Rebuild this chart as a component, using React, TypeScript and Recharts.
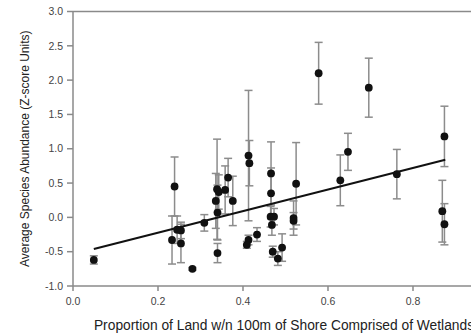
import React from "react";
import {
  ComposedChart,
  Scatter,
  ErrorBar,
  XAxis,
  YAxis,
  ReferenceLine,
  Label,
} from "recharts";

// proportion of land within 100m of shore that is wetland
const wetlandProp = [
  0.049, 0.239, 0.233, 0.245, 0.254, 0.254, 0.281, 0.309, 0.336, 0.339,
  0.343, 0.34, 0.34, 0.358, 0.365, 0.376, 0.413, 0.415, 0.413, 0.409,
  0.433, 0.466, 0.466, 0.465, 0.473, 0.468, 0.47, 0.482, 0.492, 0.525,
  0.519, 0.519, 0.578, 0.629, 0.647, 0.696, 0.762, 0.874, 0.869, 0.874,
];

// average species abundance, z-score units
const abundance = [
  -0.62, 0.45, -0.33, -0.18, -0.19, -0.38, -0.75, -0.08, 0.24, 0.41,
  0.37, 0.07, -0.52, 0.4, 0.58, 0.24, 0.9, 0.79, -0.33, -0.4,
  -0.25, 0.64, 0.35, 0.01, 0.01, -0.11, -0.5, -0.6, -0.44, 0.49,
  -0.01, -0.05, 2.1, 0.54, 0.955, 1.89, 0.63, 1.18, 0.09, -0.1,
];

const abundanceErr = [
  0.06, 0.43, 0.35, 0.2, 0.12, 0.28, 0.02, 0.12, 0.4, 0.73,
  0.25, 0.4, 0.14, 0.35, 0.28, 0.36, 0.95, 0.33, 0.07, 0.05,
  0.1, 0.46, 0.37, 0.15, 0.12, 0.15, 0.08, 0.1, 0.2, 0.6,
  0.25, 0.12, 0.45, 0.37, 0.27, 0.43, 0.36, 0.44, 0.45, 0.3,
];

// regression line end points
const fitX = [0.049, 0.876];
const fitY = [-0.46, 0.84];

const xTicks = [0, 0.2, 0.4, 0.6, 0.8];
const yTicks = [-1, -0.5, 0, 0.5, 1, 1.5, 2, 2.5, 3];

const points = wetlandProp.map((x, i) => ({
  x,
  y: abundance[i],
  err: abundanceErr[i],
}));
const fitLine = fitX.map((x, i) => ({ x, y: fitY[i] }));

const AXIS = "#8a8a8a";
const FONT = "'Liberation Sans', Arial, sans-serif";

const Dot = (props: any) => {
  const { cx, cy } = props;
  if (cx == null || cy == null) return null;
  return <circle cx={cx} cy={cy} r={3.9} fill="#111" />;
};

export default function App() {
  return (
    <div style={{ position: "absolute", left: 0, top: 0, background: "#fff" }}>
      <ComposedChart
        width={471}
        height={333}
        margin={{ top: 11.5, right: 0, bottom: 0, left: 0 }}
        style={{ fontFamily: FONT }}
      >
        <XAxis
          type="number"
          dataKey="x"
          domain={[0, 0.9365]}
          ticks={xTicks}
          allowDataOverflow
          tickFormatter={(v: number) => v.toFixed(1)}
          height={47}
          stroke={AXIS}
          strokeWidth={1.5}
          tickSize={5}
          tickMargin={7}
          tick={{ fill: "#444", fontSize: 10.5 }}
        >
          <Label
            value="Proportion of Land w/n 100m of Shore Comprised of Wetlands"
            position="insideBottom"
            offset={3.5}
            dx={12}
            style={{ fill: "#222", fontSize: 13.8, textAnchor: "middle" }}
          />
        </XAxis>
        <YAxis
          type="number"
          dataKey="y"
          domain={[-1, 3]}
          ticks={yTicks}
          allowDataOverflow
          tickFormatter={(v: number) => v.toFixed(1)}
          width={73}
          stroke={AXIS}
          strokeWidth={1.5}
          tickSize={6}
          tickMargin={4}
          tick={{ fill: "#444", fontSize: 10.5 }}
        >
          <Label
            value="Average Species Abundance (Z-score Units)"
            angle={-90}
            position="insideLeft"
            offset={25}
            style={{ fill: "#222", fontSize: 12, textAnchor: "middle" }}
          />
        </YAxis>
        <ReferenceLine y={3} stroke={AXIS} strokeWidth={1.5} />
        <Scatter data={points} shape={<Dot />} isAnimationActive={false}>
          <ErrorBar
            dataKey="err"
            direction="y"
            width={4}
            stroke="#8c8c8c"
            strokeWidth={1.5}
            isAnimationActive={false}
          />
        </Scatter>
        <Scatter
          data={fitLine}
          line={{ stroke: "#111", strokeWidth: 2 }}
          shape={() => null}
          isAnimationActive={false}
        />
      </ComposedChart>
    </div>
  );
}
